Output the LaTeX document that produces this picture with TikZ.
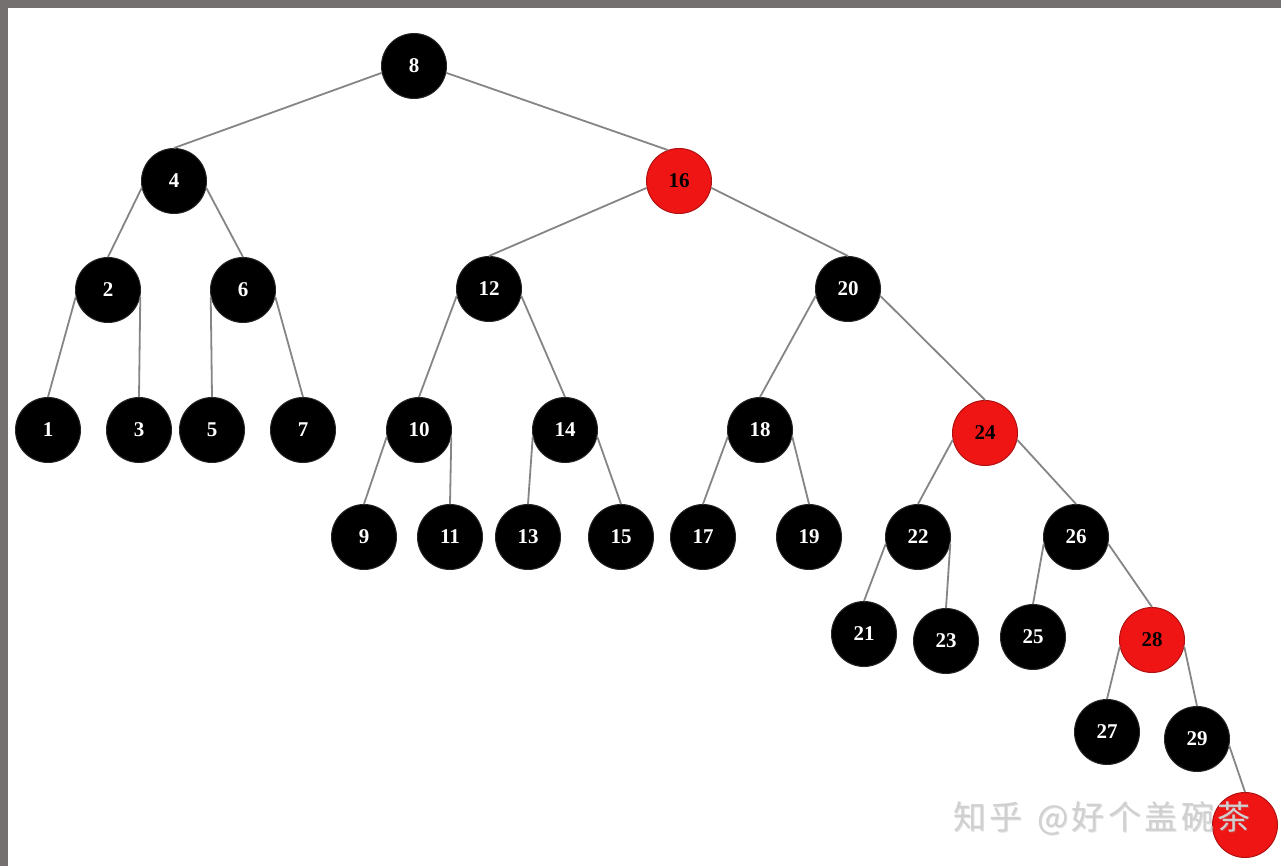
\documentclass[tikz,border=0pt]{standalone}
\usepackage{fontspec}
\setmainfont{Liberation Serif}
\newfontfamily\cjk{Noto Sans CJK SC}
\definecolor{bordergray}{HTML}{757070}
\definecolor{edgegray}{HTML}{858585}
\definecolor{rbred}{HTML}{F01515}
\definecolor{rbredline}{HTML}{B01010}
\definecolor{wmgray}{HTML}{D0D0D0}
\newcommand{\wmtext}{知\kern3.5pt 乎\kern3.5pt\ \kern3.5pt @\kern3.5pt 好\kern3.5pt 个\kern3.5pt 盖\kern3.5pt 碗\kern3.5pt 茶}
\begin{document}
\begin{tikzpicture}[x=1pt,y=-1pt,
  blk/.style={circle,minimum size=65pt,inner sep=0pt,fill=black,draw=black!85,line width=1pt,
    text=white,font=\fontsize{21}{21}\selectfont\bfseries},
  rd/.style={circle,minimum size=65pt,inner sep=0pt,fill=rbred,draw=rbredline,line width=1pt,
    text=black,font=\fontsize{21}{21}\selectfont\bfseries},
  edge/.style={draw=edgegray,line width=1.8pt},
  wm/.style={font=\cjk\fontsize{33}{33}\selectfont,inner sep=0pt}]
\useasboundingbox (0,0) rectangle (1281,866);
\fill[white] (0,0) rectangle (1281,866);
\fill[bordergray] (0,0) rectangle (1281,8);
\fill[bordergray] (0,0) rectangle (8,866);

\node[blk] (n8) at (414,66) {8};
\node[blk] (n4) at (174,181) {4};
\node[rd]  (n16) at (679,181) {16};
\node[blk] (n2) at (108,290) {2};
\node[blk] (n6) at (243,290) {6};
\node[blk] (n12) at (489,289) {12};
\node[blk] (n20) at (848,289) {20};
\node[blk] (n1) at (48,430) {1};
\node[blk] (n3) at (139,430) {3};
\node[blk] (n5) at (212,430) {5};
\node[blk] (n7) at (303,430) {7};
\node[blk] (n10) at (419,430) {10};
\node[blk] (n14) at (565,430) {14};
\node[blk] (n18) at (760,430) {18};
\node[rd]  (n24) at (985,433) {24};
\node[blk] (n9) at (364,537) {9};
\node[blk] (n11) at (450,537) {11};
\node[blk] (n13) at (528,537) {13};
\node[blk] (n15) at (621,537) {15};
\node[blk] (n17) at (703,537) {17};
\node[blk] (n19) at (809,537) {19};
\node[blk] (n22) at (918,537) {22};
\node[blk] (n26) at (1076,537) {26};
\node[blk] (n21) at (864,634) {21};
\node[blk] (n23) at (946,641) {23};
\node[blk] (n25) at (1033,637) {25};
\node[rd]  (n28) at (1152,640) {28};
\node[blk] (n27) at (1107,732) {27};
\node[blk] (n29) at (1197,739) {29};
\node[rd]  (n30) at (1245,825) {};

\foreach \p/\c in {8/4,4/2,16/12,2/1,6/5,12/10,20/18,10/9,14/13,18/17,24/22,22/21,26/25,28/27}
  \path[edge] (n\p.192) -- (n\c.north);
\path[edge] (n8.-12) -- (n16.110);
\foreach \p/\c in {4/6,16/20,2/3,6/7,12/14,20/24,10/11,14/15,18/19,24/26,22/23,26/28,28/29,29/30}
  \path[edge] (n\p.-12) -- (n\c.north);

\node[wm,text=black!40,opacity=0.3] at (1103,819) {\wmtext};
\node[wm,text=wmgray] (wm) at (1102,818) {\wmtext};
\end{tikzpicture}
\end{document}
